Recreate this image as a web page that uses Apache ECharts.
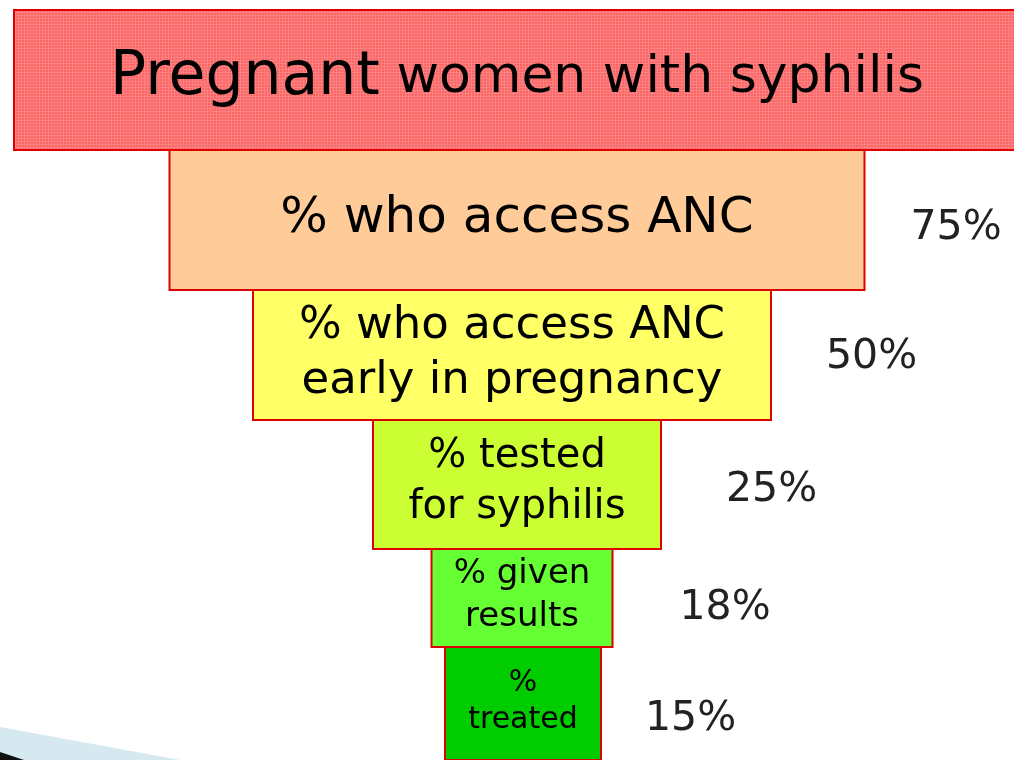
<!DOCTYPE html>
<html><head><meta charset="utf-8">
<script src="https://cdn.jsdelivr.net/npm/echarts@6/dist/echarts.min.js"></script>
<style>html,body{margin:0;padding:0;background:#fff}#c{width:1014px;height:760px}</style>
</head><body><div id="c"></div>
<script>
// ---- data ----
const stageLabels = ['Pregnant women with syphilis', '% who access ANC', '% who access ANC\nearly in pregnancy', '% tested\nfor syphilis', '% given\nresults', '%\ntreated'];
const percentLabels = ['', '75%', '50%', '25%', '18%', '15%'];
const barLengths = [100.6, 69.5, 51.8, 28.8, 18.1, 15.6];

// ---- layout / style ----
const ROWS = [{top:10,h:140},{top:150,h:140},{top:290,h:130},{top:420,h:129},{top:549,h:98},{top:647,h:118}];
const CENTER_SHIFT = [0, 0, -5, 0, 5, 6];
const FONT_SIZE = [52, 50, 45, 40, 34, 30];
const LINE_H = [60, 56, 55, 51, 43, 37];
const TEXT_DY = [-2, -1, -1, -2, -2, -2];
const PCT_GAP = [0, 46, 55, 65, 67, 44];
const PCT_DY = [0, 8, 2, 6, 10, 16];
const FAMILY = '"DejaVu Sans", Verdana, sans-serif';

function makePattern(){
  const c = document.createElement('canvas'); c.width = 3; c.height = 3;
  const g = c.getContext('2d');
  g.fillStyle = '#f96666'; g.fillRect(0,0,3,3);
  g.fillStyle = '#ff8080'; g.fillRect(0,0,3,1); g.fillRect(0,0,1,3);
  return c;
}
const FILLS = [{image: makePattern(), repeat: 'repeat'}, '#ffcc99', '#ffff66', '#ccff33', '#66ff33', '#00cc00'];

function makeRender(i){
  return function(params, api){
    const v = api.value(0);
    const a = api.coord([-v/2, 0]), b = api.coord([v/2, 0]);
    const h = api.size([0, 1])[1];
    const x0 = a[0] + CENTER_SHIFT[i], x1 = b[0] + CENTER_SHIFT[i], cy = a[1];
    const children = [{
      type: 'rect',
      shape: {x: x0, y: cy - h/2, width: x1 - x0, height: h},
      style: {fill: FILLS[i], stroke: '#dd0000', lineWidth: 2}
    }];
    const txtStyle = {
      x: (x0 + x1)/2, y: cy + TEXT_DY[i], align: 'center', verticalAlign: 'middle',
      fill: '#000', fontFamily: FAMILY, fontSize: FONT_SIZE[i], lineHeight: LINE_H[i]
    };
    if (i === 0) {
      const parts = stageLabels[0].split(' ');
      txtStyle.text = '{big|' + parts[0] + '} {small|' + parts.slice(1).join(' ') + '}';
      txtStyle.rich = {
        big: {fontFamily: FAMILY, fontSize: 60, fill: '#000', lineHeight: LINE_H[0]},
        small: {fontFamily: FAMILY, fontSize: FONT_SIZE[0], fill: '#000', lineHeight: LINE_H[0]}
      };
    } else {
      txtStyle.text = stageLabels[i];
    }
    children.push({type: 'text', style: txtStyle});
    if (percentLabels[i]) {
      children.push({type: 'text', style: {
        text: percentLabels[i], x: x1 + PCT_GAP[i], y: cy + PCT_DY[i],
        align: 'left', verticalAlign: 'middle', fill: '#222',
        fontFamily: FAMILY, fontSize: 41
      }});
    }
    return {type: 'group', children: children};
  };
}

const grids = [], xAxes = [], yAxes = [], series = [];
stageLabels.forEach(function(name, i){
  grids.push({left: 0, right: 0, top: ROWS[i].top, height: ROWS[i].h, containLabel: false});
  xAxes.push({type: 'value', gridIndex: i, min: -51.7, max: 49.7, show: false});
  yAxes.push({type: 'category', gridIndex: i, data: [name], show: false});
  series.push({
    type: 'custom', name: name, xAxisIndex: i, yAxisIndex: i,
    encode: {x: 0, y: 1}, silent: true, animation: false,
    z: 2 + i,
    renderItem: makeRender(i),
    data: [[barLengths[i], 0]]
  });
});

const chart = echarts.init(document.getElementById('c'), null, {renderer: 'canvas'});
chart.setOption({
  backgroundColor: '#ffffff',
  animation: false,
  grid: grids, xAxis: xAxes, yAxis: yAxes, series: series,
  graphic: [
    {type: 'polygon', z: 0, shape: {points: [[0,727],[180,760],[0,760]]}, style: {fill: '#d6e8f0'}},
    {type: 'polygon', z: 1, shape: {points: [[0,752],[24,760],[0,760]]}, style: {fill: '#111'}}
  ]
});
</script></body></html>
